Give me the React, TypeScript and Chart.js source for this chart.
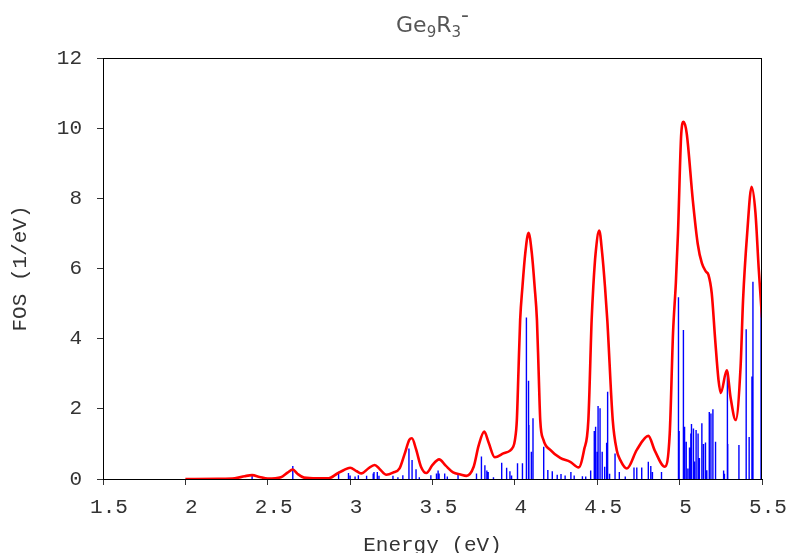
import { useEffect, useRef } from 'react';
import { Chart, registerables } from 'chart.js';
Chart.register(...registerables);

// Broadened spectrum (red curve)
const curveE = [2.0, 2.2, 2.3, 2.36, 2.405, 2.45, 2.5, 2.58, 2.62, 2.652, 2.68, 2.72, 2.8, 2.87, 2.92, 2.96, 3.0, 3.04, 3.07, 3.11, 3.149, 3.18, 3.22, 3.26, 3.3, 3.33, 3.36, 3.375, 3.4, 3.43, 3.463, 3.5, 3.54, 3.58, 3.625, 3.67, 3.706, 3.75, 3.78, 3.814, 3.84, 3.878, 3.93, 3.99, 4.0, 4.012, 4.022, 4.032, 4.046, 4.063, 4.083, 4.103, 4.12, 4.134, 4.144, 4.154, 4.174, 4.215, 4.275, 4.336, 4.387, 4.42, 4.446, 4.466, 4.476, 4.49, 4.512, 4.53, 4.547, 4.561, 4.594, 4.618, 4.64, 4.68, 4.74, 4.81, 4.85, 4.91, 4.94, 4.96, 4.977, 4.99, 5.01, 5.024, 5.043, 5.08, 5.11, 5.135, 5.16, 5.175, 5.195, 5.216, 5.236, 5.25, 5.286, 5.31, 5.34, 5.37, 5.385, 5.41, 5.437, 5.46, 5.48, 5.5];
const curveFOS = [0, 0.005, 0.02, 0.08, 0.11, 0.06, 0.01, 0.05, 0.18, 0.27, 0.15, 0.04, 0.02, 0.02, 0.15, 0.25, 0.32, 0.22, 0.16, 0.3, 0.4, 0.28, 0.12, 0.18, 0.3, 0.7, 1.12, 1.16, 0.85, 0.35, 0.17, 0.4, 0.56, 0.38, 0.19, 0.13, 0.09, 0.35, 0.95, 1.35, 1.05, 0.62, 0.73, 0.92, 1.1, 1.68, 3.1, 4.53, 5.48, 6.43, 7.02, 6.43, 5.48, 4.53, 3.1, 1.68, 1.11, 0.83, 0.6, 0.49, 0.33, 0.83, 1.68, 4.53, 5.48, 6.43, 7.08, 6.43, 5.48, 4.53, 1.68, 0.83, 0.54, 0.3, 0.83, 1.23, 0.8, 0.35, 1.3, 4.16, 5.58, 7.0, 9.85, 10.18, 9.85, 7.95, 6.7, 6.15, 5.91, 5.82, 5.29, 3.96, 2.82, 2.45, 3.1, 2.3, 1.68, 3.2, 5.1, 7.0, 8.33, 7.6, 6.0, 4.6];

// Oscillator strengths (blue sticks)
const stickE = [2.405, 2.652, 2.93, 2.99, 3.0, 3.03, 3.05, 3.1, 3.14, 3.145, 3.165, 3.175, 3.26, 3.29, 3.32, 3.357, 3.376, 3.4, 3.42, 3.49, 3.524, 3.534, 3.54, 3.574, 3.59, 3.655, 3.767, 3.797, 3.818, 3.83, 3.838, 3.87, 3.92, 3.95, 3.97, 3.98, 4.016, 4.046, 4.07, 4.083, 4.085, 4.1, 4.11, 4.175, 4.2, 4.227, 4.257, 4.28, 4.305, 4.34, 4.36, 4.41, 4.43, 4.46, 4.482, 4.49, 4.5, 4.505, 4.517, 4.53, 4.545, 4.557, 4.563, 4.575, 4.608, 4.634, 4.67, 4.723, 4.74, 4.77, 4.81, 4.825, 4.835, 4.89, 4.993, 4.997, 5.023, 5.03, 5.04, 5.05, 5.06, 5.068, 5.072, 5.084, 5.09, 5.1, 5.112, 5.12, 5.135, 5.145, 5.157, 5.165, 5.18, 5.19, 5.202, 5.218, 5.267, 5.272, 5.29, 5.292, 5.36, 5.404, 5.422, 5.439, 5.445, 5.494];
const stickFOS = [0.13, 0.37, 0.21, 0.17, 0.1, 0.07, 0.11, 0.09, 0.16, 0.2, 0.2, 0.09, 0.09, 0.05, 0.11, 0.87, 0.54, 0.28, 0.05, 0.11, 0.16, 0.24, 0.16, 0.16, 0.07, 0.16, 0.16, 0.64, 0.39, 0.24, 0.2, 0.05, 0.46, 0.32, 0.22, 0.1, 0.45, 0.45, 4.6, 2.8, 1.54, 0.78, 1.73, 0.92, 0.26, 0.22, 0.12, 0.14, 0.1, 0.2, 0.1, 0.08, 0.07, 0.24, 1.37, 1.49, 0.78, 2.08, 2.02, 0.78, 0.35, 1.03, 2.49, 0.15, 0.73, 0.2, 0.07, 0.33, 0.33, 0.33, 0.49, 0.37, 0.2, 0.2, 5.18, 1.37, 4.25, 1.49, 1.06, 0.3, 0.9, 1.3, 1.57, 1.44, 0.5, 1.4, 1.3, 0.6, 1.59, 1.0, 1.04, 0.25, 1.91, 1.87, 1.99, 1.06, 0.24, 0.15, 3.08, 1.0, 0.97, 4.27, 1.2, 2.92, 5.62, 5.14];

const xMin = 1.5;
const xMax = 5.5;
const xStep = 0.5;
const yMin = 0;
const yMax = 12;
const yStep = 2;

const titleParts = [
  { text: 'Ge', kind: 'main' },
  { text: '9', kind: 'sub' },
  { text: 'R', kind: 'main' },
  { text: '3', kind: 'sub' },
  { text: '-', kind: 'sup' },
];

const MONO = "'Liberation Mono', 'Courier New', monospace";

const titlePlugin = {
  id: 'subTitle',
  afterDraw(chart: any) {
    const ctx = chart.ctx;
    const area = chart.chartArea;
    ctx.save();
    ctx.fillStyle = '#555';
    ctx.textBaseline = 'alphabetic';
    ctx.textAlign = 'left';
    const fontFor = (k: string) =>
      k === 'main'
        ? "22px 'DejaVu Sans', Verdana, sans-serif"
        : k === 'sub'
        ? "15px 'DejaVu Sans', Verdana, sans-serif"
        : "22px 'DejaVu Sans', Verdana, sans-serif";
    const dyFor = (k: string) => (k === 'sub' ? 5 : k === 'sup' ? -10 : 0);
    let total = 0;
    const widths: number[] = [];
    titleParts.forEach((p) => {
      ctx.font = fontFor(p.kind);
      const w = ctx.measureText(p.text).width;
      widths.push(w);
      total += w;
    });
    let x = (area.left + area.right) / 2 - total / 2;
    const baseY = 32;
    titleParts.forEach((p, i) => {
      ctx.font = fontFor(p.kind);
      ctx.fillText(p.text, x, baseY + dyFor(p.kind));
      x += widths[i];
    });
    ctx.restore();
  },
};

const framePlugin = {
  id: 'frame',
  afterDatasetsDraw(chart: any) {
    const { ctx, chartArea: a } = chart;
    ctx.save();
    ctx.strokeStyle = '#000';
    ctx.lineWidth = 1;
    ctx.strokeRect(a.left + 0.5, a.top + 0.5, a.right - a.left - 1, a.bottom - a.top);
    ctx.restore();
  },
};

export default function App() {
  const ref = useRef<HTMLCanvasElement | null>(null);
  useEffect(() => {
    if (!ref.current) return;
    const curve = curveE.map((e, i) => ({ x: e, y: curveFOS[i] }));
    const sticks: any[] = [];
    stickE.forEach((e, i) => {
      sticks.push({ x: e, y: 0 });
      sticks.push({ x: e, y: stickFOS[i] });
      sticks.push({ x: e, y: null });
    });
    const chart = new Chart(ref.current, {
      type: 'line',
      data: {
        datasets: [
          {
            label: 'spectrum',
            data: curve,
            borderColor: '#ff0000',
            borderWidth: 2.6,
            pointRadius: 0,
            cubicInterpolationMode: 'monotone',
            fill: false,
          },
          {
            label: 'sticks',
            data: sticks,
            borderColor: '#0000ff',
            borderWidth: 1.4,
            pointRadius: 0,
            spanGaps: false,
            tension: 0,
            fill: false,
          },
        ],
      },
      options: {
        animation: false,
        responsive: false,
        maintainAspectRatio: false,
        layout: { padding: { top: 58, right: 25, left: 0, bottom: 0 } },
        plugins: { legend: { display: false }, tooltip: { enabled: false }, title: { display: false } },
        scales: {
          x: {
            type: 'linear',
            min: xMin,
            max: xMax,
            ticks: {
              stepSize: xStep,
              color: '#333',
              font: { family: MONO, size: 21 },
              padding: 10,
              maxRotation: 0,
              labelOffset: 6,
              callback: (v: any) => String(Math.round(Number(v) * 10) / 10),
            },
            grid: { drawOnChartArea: false, drawTicks: true, tickLength: 6, color: '#333' },
            border: { display: true, color: '#000', width: 1 },
            title: {
              display: true,
              text: 'Energy (eV)',
              color: '#333',
              font: { family: MONO, size: 21, lineHeight: 0.7 },
              padding: { top: 0, bottom: 0 },
            },
            afterFit(scale: any) {
              scale.height = 74;
              scale.paddingLeft = 0;
              scale.paddingRight = 0;
            },
          },
          y: {
            type: 'linear',
            min: yMin,
            max: yMax,
            ticks: { stepSize: yStep, color: '#333', font: { family: MONO, size: 21 }, padding: 15 },
            grid: { drawOnChartArea: false, drawTicks: true, tickLength: 6, color: '#333' },
            border: { display: true, color: '#000', width: 1 },
            title: {
              display: true,
              text: 'FOS (1/eV)',
              color: '#333',
              font: { family: MONO, size: 21, lineHeight: 1.2 },
              padding: { top: 8, bottom: 0 },
            },
            afterFit(scale: any) {
              scale.width = 103;
            },
          },
        },
      },
      plugins: [titlePlugin, framePlugin],
    } as any);
    return () => chart.destroy();
  }, []);
  return (
    <div style={{ position: 'fixed', left: 0, top: 0, width: 787, height: 553, background: '#fff' }}>
      <canvas ref={ref} width={787} height={553} style={{ width: 787, height: 553 }} />
    </div>
  );
}
